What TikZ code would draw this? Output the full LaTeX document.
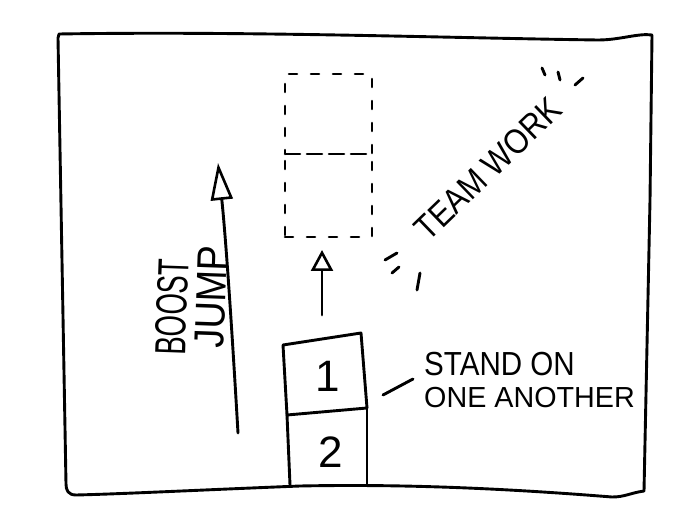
\documentclass[tikz,border=0pt]{standalone}
\usepackage{fontspec}
\setmainfont{Liberation Sans}
\usetikzlibrary{arrows.meta}
\tikzset{
  pen/.style={line width=2.9pt, line cap=round, line join=round, black},
  ghost/.style={line width=2.6pt, line cap=round, black, dash pattern=on 8pt off 14pt},
  hand/.style={font=\fontsize{29}{31}\selectfont, inner sep=0pt},
  digit/.style={font=\fontsize{44}{46}\selectfont, inner sep=0pt},
  openhead/.style={-{Triangle[open, length=#1, width=22pt, line width=2.6pt]}},
}
\begin{document}
\begin{tikzpicture}[x=1pt,y=-1pt]
\useasboundingbox (0,0) rectangle (693,526);
\fill[white] (0,0) rectangle (693,526);
% frame
\draw[pen] (59,34) .. controls (250,31) and (450,38) .. (598,40)
  .. controls (620,40) and (638,33) .. (652,35)
  -- (650,200) -- (644,491)
  .. controls (630,493) and (625,497) .. (612,497)
  .. controls (500,488) and (400,484) .. (300,486)
  .. controls (200,490) and (120,494) .. (76,495)
  .. controls (68,495) and (66,490) .. (66,484)
  -- (58,38) -- cycle;
% ghost boxes
\node[ghost, draw, minimum width=87pt, minimum height=80pt, inner sep=0pt] (ghostA) at (328.5,114) {};
\node[ghost, draw, minimum width=87pt, minimum height=83pt, inner sep=0pt] (ghostB) at (328.5,195.5) {};
% stacked boxes
\coordinate (b1tl) at (283,345);
\coordinate (b1tr) at (361,333);
\coordinate (b1bl) at (287,415);
\coordinate (b1br) at (367,408);
\coordinate (b2bl) at (290,485);
\coordinate (b2br) at (367,485);
\draw[pen] (b1bl) -- (b1tl) -- (b1tr) -- (b1br);
\draw[pen] (b1bl) -- (b1br);
\draw[pen] (b1bl) -- (b2bl);
\draw[pen] (b1br) -- (b2br);
\node[digit] (one) at (328,376) {1};
\node[digit] (two) at (331,452) {2};
% arrow between
\coordinate (upS) at (322,315);
\coordinate (upE) at (322,250);
\draw[pen, openhead=21pt] (upS) -- (upE);
% boost arrow
\coordinate (bS) at (238,433);
\coordinate (bE) at (218,163);
\draw[pen, openhead=37pt] (bS) .. controls (232,330) and (226,240) .. (bE);
\node[hand, rotate=88] (boost) at (172,307) {\scalebox{0.95}[1.5]{BOOST}};
\node[hand, rotate=88] (jump) at (211,297) {\scalebox{1.3}[1.45]{JUMP}};
% stand on one another
\node[hand, anchor=west] (stand) at (424,364) {\scalebox{1.02}[1.15]{STAND ON}};
\node[hand, anchor=west] (another) at (424,398) {\scalebox{0.99}[1.0]{ONE ANOTHER}};
\coordinate (dA) at (383,395);
\coordinate (dB) at (413,379);
\draw[pen] (dA) -- (dB);
% team work
\node[hand, rotate=44] (team) at (488,169) {\scalebox{1.05}[1.2]{TEAM WORK}};
% sparkles
\coordinate (s1a) at (385,260); \coordinate (s1b) at (397,253);
\coordinate (s2a) at (392,273); \coordinate (s2b) at (399,267);
\coordinate (s3a) at (417,290); \coordinate (s3b) at (420,273);
\coordinate (s4a) at (542,68); \coordinate (s4b) at (545,75);
\coordinate (s5a) at (558,72); \coordinate (s5b) at (560,80);
\coordinate (s6a) at (575,85); \coordinate (s6b) at (583,78);
\draw[pen] (s1a) -- (s1b);
\draw[pen] (s2a) -- (s2b);
\draw[pen] (s3a) -- (s3b);
\draw[pen] (s4a) -- (s4b);
\draw[pen] (s5a) -- (s5b);
\draw[pen] (s6a) -- (s6b);
\end{tikzpicture}
\end{document}
